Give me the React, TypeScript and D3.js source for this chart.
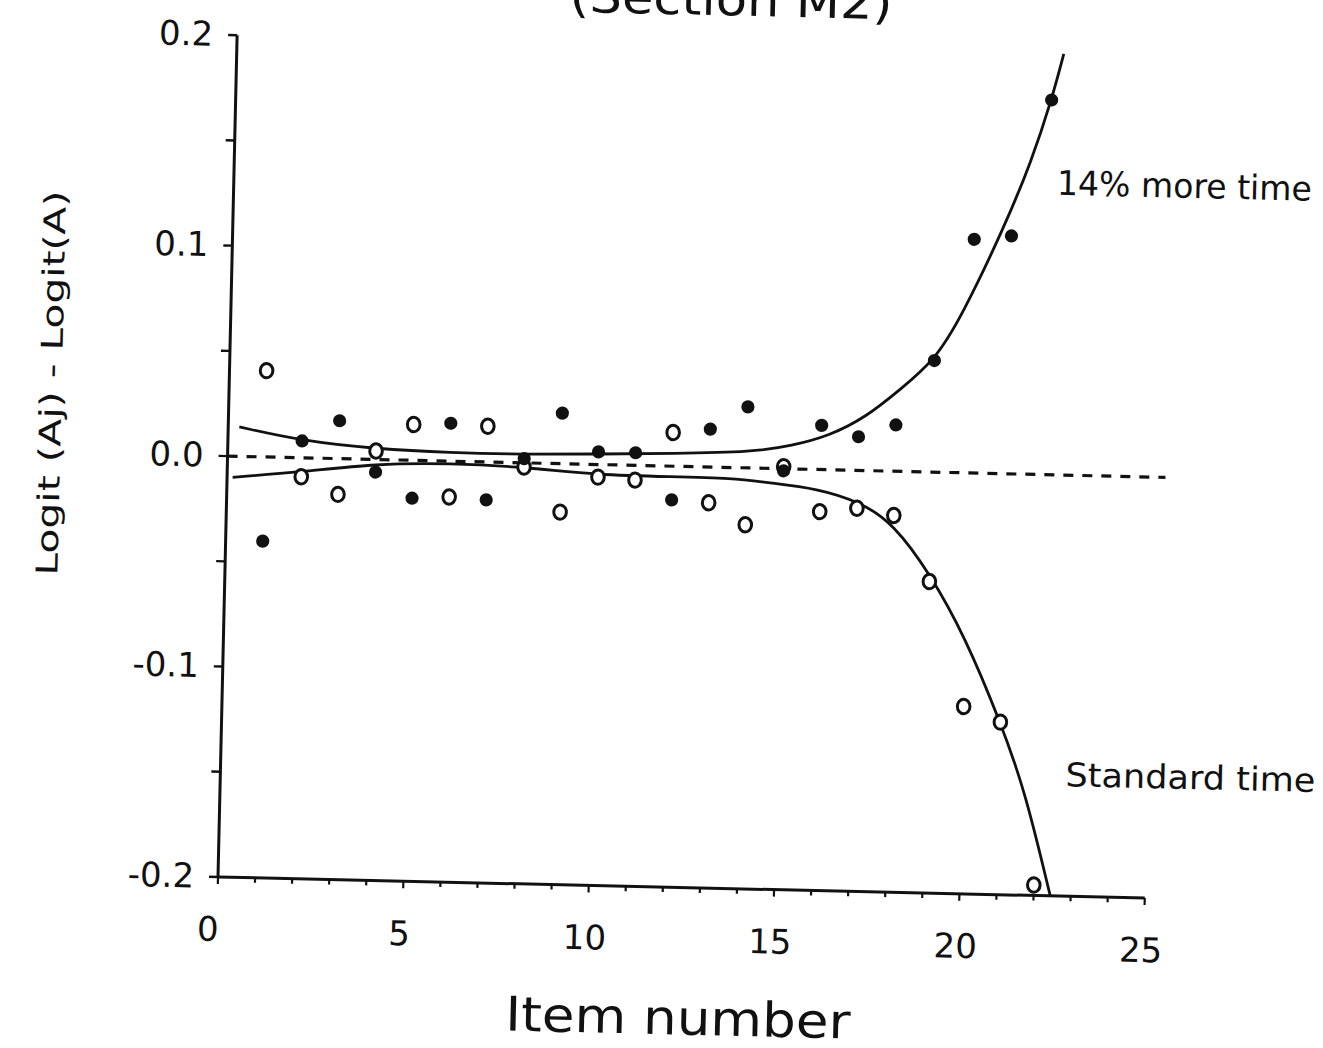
import React from 'react';
import * as d3 from 'd3';

// item numbers on the x axis
const itemNumbers = [1, 2, 3, 4, 5, 6, 7, 8, 9, 10, 11, 12, 13, 14, 15, 16, 17, 18, 19, 20, 21, 22];

// filled dots: 14% more time
const moreTimeValues = [
  -0.040, 0.008, 0.018, -0.006, -0.018, 0.018, -0.018, 0.002, 0.024, 0.006, 0.006,
  -0.016, 0.018, 0.029, -0.001, 0.021, 0.016, 0.022, 0.053, 0.111, 0.113, 0.178,
];

// open circles: standard time
const standardTimeValues = [
  0.041, -0.009, -0.017, 0.004, 0.017, -0.017, 0.017, -0.002, -0.023, -0.006, -0.007,
  0.016, -0.017, -0.027, 0.001, -0.020, -0.018, -0.021, -0.052, -0.111, -0.118, -0.195,
];

// fitted curves
const moreTimeCurveX = [0.3, 2, 4, 6, 8, 10, 12, 14.2, 15.2, 16.2, 17.2, 18.1, 19.0, 19.7, 20.8, 21.5, 22.0, 22.3];
const moreTimeCurveY = [0.014, 0.008, 0.005, 0.004, 0.004, 0.005, 0.006, 0.0077, 0.011, 0.016, 0.0255, 0.039, 0.053, 0.074, 0.117, 0.149, 0.178, 0.2];

const standardCurveX = [0.15, 2, 4, 6, 8, 10, 12, 13.6, 14.7, 15.9, 17.1, 18.0, 19.0, 20.0, 21.0, 21.7, 22.45];
const standardCurveY = [-0.010, -0.0067, -0.002, -0.001, -0.002, -0.005, -0.005, -0.005, -0.007, -0.009, -0.015, -0.025, -0.048, -0.078, -0.118, -0.150, -0.2];

// dashed zero line
const referenceX = [0, 25.3];
const referenceY = [0, 0];

const xTickValues = [0, 5, 10, 15, 20, 25];
const xTickLabels = ['0', '5', '10', '15', '20', '25'];
const yTickValues = [0.2, 0.1, 0, -0.1, -0.2];
const yTickLabels = ['0.2', '0.1', '0.0', '-0.1', '-0.2'];

const W = 1323;
const H = 1048;
const SKEW = 1.3; // the scanned page sits slightly rotated
const FONT = '"DejaVu Sans", "Open Sans", sans-serif';
const INK = '#111';

export default function App() {
  const x = d3.scaleLinear().domain([0, 25]).range([218, 1145]);
  const y = d3.scaleLinear().domain([-0.2, 0.2]).range([877, 35]);

  const line = d3
    .line<[number, number]>()
    .x(d => x(d[0]))
    .y(d => y(d[1]))
    .curve(d3.curveBasis);

  const moreCurve = line(moreTimeCurveX.map((v, i) => [v, moreTimeCurveY[i]]));
  const stdCurve = line(standardCurveX.map((v, i) => [v, standardCurveY[i]]));
  const refLine = d3
    .line<[number, number]>()
    .x(d => x(d[0]))
    .y(d => y(d[1]))(referenceX.map((v, i) => [v, referenceY[i]]));

  const minorX = x.ticks(25);
  const minorY = y.ticks(8);

  const [x0, x1] = x.range();
  const [yBottom, yTop] = y.range();

  return (
    <svg
      width={W}
      height={H}
      style={{ position: 'absolute', left: 0, top: 0, background: '#fff' }}
      fontFamily={FONT}
    >
      <rect width={W} height={H} fill="#fff" />
      <g transform={`rotate(${SKEW}, ${x0}, ${yBottom})`} fill={INK}>
        {/* title, cut off at the top of the page as in the scan */}
        <text x={711} y={4} fontSize={46} textAnchor="middle" textLength={323} lengthAdjust="spacingAndGlyphs">
          (Section M2)
        </text>

        {/* axes */}
        <line x1={x0} x2={x0} y1={yTop} y2={yBottom} stroke={INK} strokeWidth={3} />
        <line x1={x0} x2={x1} y1={yBottom} y2={yBottom} stroke={INK} strokeWidth={3} />

        {minorY.map(v => (
          <line key={'yt' + v} x1={x0 - 9} x2={x0} y1={y(v)} y2={y(v)} stroke={INK} strokeWidth={2.4} />
        ))}
        {minorX.map(v => (
          <line
            key={'xt' + v}
            x1={x(v)}
            x2={x(v)}
            y1={yBottom}
            y2={yBottom + (v % 5 === 0 ? 7 : 5)}
            stroke={INK}
            strokeWidth={2.2}
          />
        ))}

        {yTickValues.map((v, i) => (
          <text key={'yl' + v} x={x0 - 24} y={y(v) + 11} fontSize={34} textAnchor="end">
            {yTickLabels[i]}
          </text>
        ))}
        {xTickValues.map((v, i) => (
          <text key={'xl' + v} x={x(v) - (i === 0 ? 9 : 3)} y={941} fontSize={34} textAnchor="middle">
            {xTickLabels[i]}
          </text>
        ))}

        <text x={681} y={1024} fontSize={48} textAnchor="middle" textLength={345} lengthAdjust="spacingAndGlyphs">
          Item number
        </text>
        <text
          transform="translate(40, 387) rotate(-90)"
          fontSize={30}
          textAnchor="middle"
          dominantBaseline="central"
          textLength={385}
          lengthAdjust="spacingAndGlyphs"
        >
          Logit (Aj) - Logit(A)
        </text>

        {/* zero reference and fitted curves */}
        <path d={refLine ?? ''} fill="none" stroke={INK} strokeWidth={3.2} strokeDasharray="10,9" />
        <path d={moreCurve ?? ''} fill="none" stroke={INK} strokeWidth={2.8} />
        <path d={stdCurve ?? ''} fill="none" stroke={INK} strokeWidth={2.8} />

        {itemNumbers.map((n, i) => (
          <ellipse
            key={'s' + n}
            cx={x(n)}
            cy={y(standardTimeValues[i])}
            rx={6.3}
            ry={7.2}
            fill="#fff"
            stroke={INK}
            strokeWidth={3}
          />
        ))}
        {itemNumbers.map((n, i) => (
          <circle key={'m' + n} cx={x(n)} cy={y(moreTimeValues[i])} r={6.6} fill={INK} />
        ))}

        <text x={1041} y={176} fontSize={34} textLength={255} lengthAdjust="spacingAndGlyphs">
          14% more time
        </text>
        <text x={1063} y={767} fontSize={33} textLength={250} lengthAdjust="spacingAndGlyphs">
          Standard time
        </text>
      </g>
    </svg>
  );
}
